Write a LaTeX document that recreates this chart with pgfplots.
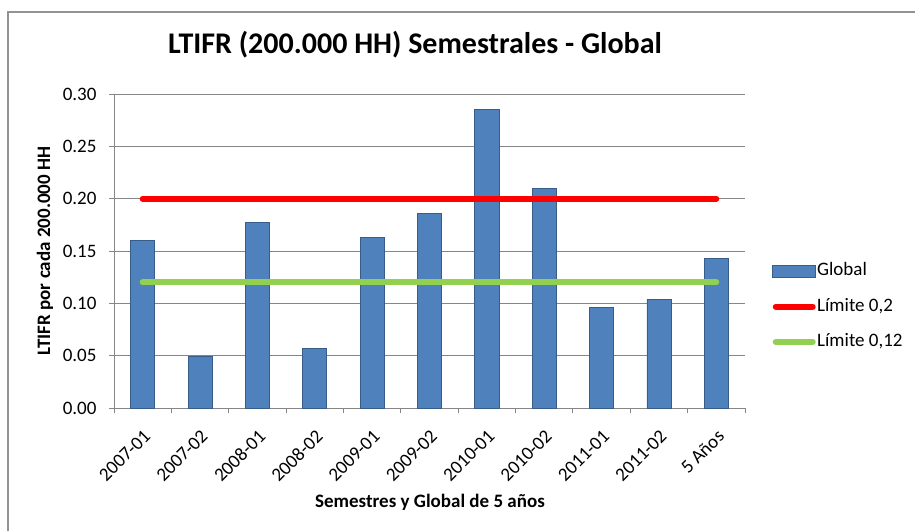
\documentclass[border=0pt]{standalone}
\usepackage{fontspec}
\setmainfont{Carlito}
\usepackage{pgfplots}
\pgfplotsset{compat=1.18}
\definecolor{barblue}{HTML}{4F81BD}
\definecolor{baredge}{HTML}{385D8A}
\definecolor{limred}{HTML}{FF0000}
\definecolor{limgreen}{HTML}{92D050}
\definecolor{gridgray}{HTML}{868686}
\begin{document}
\begin{tikzpicture}
\path[use as bounding box] (0pt,0pt) rectangle (915pt,531pt);
\draw[color=gray!85, line width=1.5pt] (8pt,0pt) -- (8pt,519pt) -- (915pt,519pt);
\node[font=\fontsize{30}{34}\selectfont\bfseries, anchor=base] at (415pt,477pt) {LTIFR (200.000 HH) Semestrales - Global};
\node[font=\fontsize{19}{22}\selectfont\bfseries, rotate=90] at (45pt,280pt) {LTIFR por cada 200.000 HH};
\node[font=\fontsize{19}{22}\selectfont\bfseries] at (430pt,29pt) {Semestres y Global de 5 años};
\begin{axis}[
  at={(114pt,123pt)}, anchor=south west,
  scale only axis, width=631pt, height=314pt,
  xmin=-0.5, xmax=10.5, ymin=0, ymax=0.3,
  axis x line*=bottom, axis y line*=left,
  axis line style={gridgray, line width=1pt, -},
  ytick={0,0.05,0.1,0.15,0.2,0.25,0.3},
  ymajorgrids, grid style={gridgray, line width=0.9pt},
  yticklabel style={xshift=-9pt, /pgf/number format/.cd, fixed, fixed zerofill, precision=2, assume math mode=true},
  tick label style={font=\fontsize{19}{22}\selectfont, color=black},
  major tick length=5pt, tick align=outside,
  ytick style={gridgray, line width=1pt},
  xtick={0,1,2,3,4,5,6,7,8,9,10},
  xticklabels={2007-01,2007-02,2008-01,2008-02,2009-01,2009-02,2010-01,2010-02,2011-01,2011-02,5 Años},
  x tick label style={yshift=-14pt, xshift=0pt, rotate=45, anchor=north east, inner sep=1pt},
  xtick style={draw=none},
  extra x ticks={-0.5,0.5,1.5,2.5,3.5,4.5,5.5,6.5,7.5,8.5,9.5,10.5},
  extra x tick labels={},
  extra x tick style={xtick style={draw=gridgray, line width=1pt}, grid=none},
  legend style={at={(1.043,0.467)}, anchor=north west, draw=none, fill=none,
    font=\fontsize{19}{22}\selectfont, row sep=16.5pt, inner sep=0pt,
    nodes={inner sep=1pt, text height=13pt, text depth=4pt}},
  legend cell align=left,
]
\addplot[ybar, bar width=0.42, fill=barblue, draw=baredge, line width=0.8pt,
  legend image code/.code={\fill[barblue, draw=baredge] (0pt,-6pt) rectangle (43pt,6pt);}]
  coordinates {(0,0.160) (1,0.049) (2,0.177) (3,0.057) (4,0.163) (5,0.186) (6,0.285) (7,0.210) (8,0.096) (9,0.104) (10,0.143)};
\addlegendentry{Global}
\addplot[limred, line width=6pt, line cap=round, mark=none,
  legend image code/.code={\draw[limred, line width=6pt, line cap=round] (3pt,0pt) -- (40pt,0pt);}]
  coordinates {(0,0.2) (10,0.2)};
\addlegendentry{Límite 0,2}
\addplot[limgreen, line width=6pt, line cap=round, mark=none,
  legend image code/.code={\draw[limgreen, line width=6pt, line cap=round] (3pt,0pt) -- (40pt,0pt);}]
  coordinates {(0,0.12) (10,0.12)};
\addlegendentry{Límite 0,12}
\end{axis}
\end{tikzpicture}
\end{document}
